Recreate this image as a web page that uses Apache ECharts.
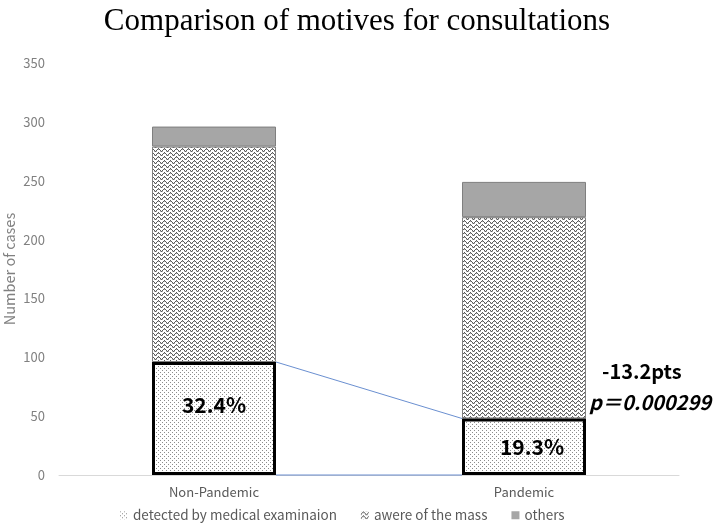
<!DOCTYPE html>
<html>
<head>
<meta charset="utf-8">
<script src="https://cdn.jsdelivr.net/npm/echarts@6/dist/echarts.min.js"></script>
<style>
  html, body { margin: 0; padding: 0; background: #fff; }
  #chart { width: 714px; height: 529px; }
</style>
</head>
<body>
<div id="chart"></div>
<script>
  const categories = ['Non-Pandemic', 'Pandemic'];
  const detected = [96, 48];
  const awareness = [183, 171];
  const others = [17, 30];
  const yTicks = { min: 0, max: 350, interval: 50 };

  // label nudges, like the hand-moved labels in the original
  const labelOffsets = [[0, -13], [8, 0]];

  // fill patterns
  function dotPattern() {
    const c = document.createElement('canvas');
    c.width = 4; c.height = 4;
    const g = c.getContext('2d');
    g.fillStyle = '#fff';
    g.fillRect(0, 0, 4, 4);
    g.fillStyle = '#8c8c8c';
    g.fillRect(0, 0, 1, 1);
    g.fillRect(2, 2, 1, 1);
    return c;
  }
  function zigzagPattern() {
    const c = document.createElement('canvas');
    c.width = 6; c.height = 4;
    const g = c.getContext('2d');
    g.fillStyle = '#fff';
    g.fillRect(0, 0, 6, 4);
    g.fillStyle = '#5a5a5a';
    g.fillRect(0, 2, 1, 1);
    g.fillRect(1, 1, 1, 1);
    g.fillRect(2, 0, 1, 1);
    g.fillRect(3, 1, 1, 1);
    g.fillRect(4, 2, 1, 1);
    g.fillRect(5, 3, 1, 1);
    g.fillStyle = '#b0b0b0';
    g.fillRect(0, 3, 1, 1);
    g.fillRect(2, 1, 1, 1);
    g.fillRect(4, 3, 1, 1);
    return c;
  }

  const font = '"Noto Sans CJK JP", "Noto Sans", sans-serif';
  const myChart = echarts.init(document.getElementById('chart'));

  myChart.setOption({
    animation: false,
    textStyle: { fontFamily: font },
    title: {
      text: 'Comparison of motives for consultations',
      left: 'center',
      top: 1,
      textStyle: { fontFamily: '"Liberation Serif", serif', fontSize: 31, fontWeight: 'normal', color: '#000' }
    },
    grid: { left: 59, right: 35, top: 63, bottom: 54, outerBoundsMode: 'none' },
    legend: {
      bottom: 2,
      left: 115,
      data: ['detected by medical examinaion', 'awere of the mass', 'others'],
      icon: 'rect',
      itemWidth: 8,
      itemHeight: 8,
      itemGap: 24,
      itemStyle: { borderWidth: 0 },
      textStyle: { color: '#595959', fontSize: 13.5 }
    },
    xAxis: {
      type: 'category',
      data: categories,
      axisLine: { lineStyle: { color: '#d9d9d9' } },
      axisTick: { show: false },
      axisLabel: { color: '#595959', fontSize: 13, margin: 11 }
    },
    yAxis: {
      type: 'value',
      min: yTicks.min,
      max: yTicks.max,
      interval: yTicks.interval,
      name: 'Number of cases',
      nameLocation: 'middle',
      nameGap: 42,
      nameMoveOverlap: false,
      nameTextStyle: { color: '#808080', fontSize: 14.5 },
      splitLine: { show: false },
      axisLine: { show: false },
      axisLabel: { color: '#808080', fontSize: 13, margin: 14 }
    },
    series: [
      {
        name: 'detected by medical examinaion',
        type: 'bar',
        stack: 'total',
        barWidth: '40%',
        data: detected.map((v, i) => ({ value: v, label: { offset: labelOffsets[i] } })),
        z: 3,
        itemStyle: {
          color: { image: dotPattern(), repeat: 'repeat' },
          borderColor: '#000',
          borderWidth: 3
        },
        label: {
          show: true,
          position: 'inside',
          formatter: p => (p.value / (detected[p.dataIndex] + awareness[p.dataIndex] + others[p.dataIndex]) * 100).toFixed(1) + '%',
          color: '#000',
          fontSize: 21,
          fontWeight: 'bold',
          fontFamily: font
        }
      },
      {
        name: 'awere of the mass',
        type: 'bar',
        stack: 'total',
        data: awareness,
        itemStyle: {
          color: { image: zigzagPattern(), repeat: 'repeat' },
          borderColor: '#7f7f7f',
          borderWidth: 1
        }
      },
      {
        name: 'others',
        type: 'bar',
        stack: 'total',
        data: others,
        itemStyle: { color: '#a6a6a6', borderColor: '#7f7f7f', borderWidth: 1 }
      },
      {
        // series lines between the detected segments
        type: 'custom',
        data: detected.map((v, i) => [i, v]),
        z: 1,
        silent: true,
        renderItem: function (params, api) {
          const i = params.dataIndex;
          if (i >= detected.length - 1) return null;
          const half = api.size([1, 0])[0] * 0.4 / 2;
          const a = api.coord([i, detected[i]]);
          const b = api.coord([i + 1, detected[i + 1]]);
          const a0 = api.coord([i, 0]);
          const b0 = api.coord([i + 1, 0]);
          const style = { stroke: '#4472c4', lineWidth: 0.8 };
          return {
            type: 'group',
            children: [
              { type: 'line', shape: { x1: a[0] + half, y1: a[1], x2: b[0] - half, y2: b[1] }, style: style },
              { type: 'line', shape: { x1: a0[0] + half, y1: a0[1], x2: b0[0] - half, y2: b0[1] }, style: style }
            ]
          };
        }
      }
    ],
    graphic: [
      {
        type: 'text',
        left: 602,
        top: 361,
        z: 100,
        style: { text: '-13.2pts', fill: '#000', font: 'bold 20px ' + font }
      },
      {
        type: 'text',
        left: 589,
        top: 392,
        z: 100,
        style: { text: 'p＝0.000299', fill: '#000', font: 'italic bold 20px ' + font }
      }
    ]
  });
</script>
</body>
</html>
